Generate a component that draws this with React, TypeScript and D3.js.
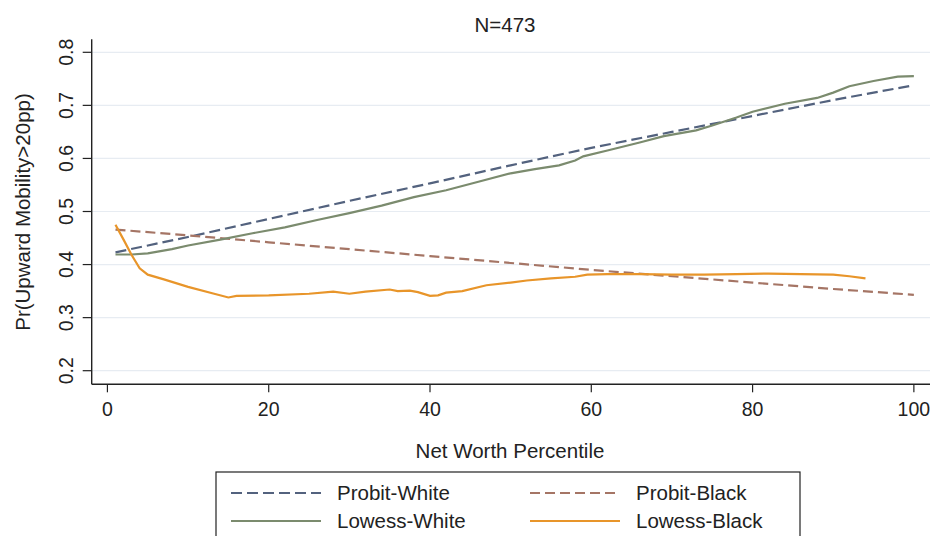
import React from "react";
import * as d3 from "d3";

// percentile values
const probitWhite: [number, number][] = [
  [1, 0.423], [10, 0.452], [20, 0.486], [30, 0.52], [40, 0.553], [50, 0.587],
  [60, 0.62], [70, 0.65], [80, 0.68], [90, 0.71], [100, 0.738],
];
const probitBlack: [number, number][] = [
  [1, 0.466], [10, 0.455], [20, 0.442], [30, 0.429], [40, 0.416], [50, 0.403],
  [60, 0.39], [70, 0.378], [80, 0.366], [90, 0.354], [100, 0.343],
];
const lowessWhite: [number, number][] = [
  [1, 0.419], [3, 0.419], [5, 0.421], [8, 0.429], [10, 0.436], [14, 0.447],
  [18, 0.459], [22, 0.47], [26, 0.484], [30, 0.497], [34, 0.511], [38, 0.527],
  [42, 0.54], [46, 0.556], [50, 0.572], [53, 0.58], [56, 0.587], [58, 0.596],
  [59, 0.604], [62, 0.615], [66, 0.63], [69, 0.642], [73, 0.653], [75, 0.662],
  [78, 0.677], [80, 0.688], [84, 0.703], [88, 0.714], [90, 0.724], [92, 0.736],
  [95, 0.746], [98, 0.754], [100, 0.755],
];
const lowessBlack: [number, number][] = [
  [1, 0.475], [2, 0.447], [3, 0.418], [4, 0.393], [5, 0.381], [7, 0.372],
  [10, 0.358], [13, 0.346], [15, 0.338], [16, 0.341], [20, 0.342], [25, 0.345],
  [28, 0.349], [30, 0.345], [32, 0.349], [35, 0.353], [36, 0.35], [37.5, 0.351],
  [38.5, 0.348], [40, 0.341], [41, 0.342], [42, 0.347], [44, 0.35], [47, 0.361],
  [50, 0.366], [52, 0.37], [55, 0.374], [58, 0.377], [59.5, 0.381], [62, 0.382],
  [66, 0.382], [70, 0.381], [74, 0.381], [78, 0.382], [82, 0.383], [86, 0.382],
  [90, 0.381], [92, 0.378], [94, 0.374],
];

const xTicks = [0, 20, 40, 60, 80, 100];
const yTicks = [0.2, 0.3, 0.4, 0.5, 0.6, 0.7, 0.8];

const series = [
  { name: "Probit-White", data: probitWhite, color: "#53627e", dash: "11,5" },
  { name: "Probit-Black", data: probitBlack, color: "#a57565", dash: "10,5" },
  { name: "Lowess-White", data: lowessWhite, color: "#7b8b6e", dash: null },
  { name: "Lowess-Black", data: lowessBlack, color: "#e8952a", dash: null },
];

const W = 934;
const H = 536;
const font = "'Liberation Sans', Arial, Helvetica, sans-serif";

export default function App() {
  const x = d3.scaleLinear().domain([-1.95, 102]).range([91.7, 930]);
  const y = d3.scaleLinear().domain([0.2, 0.8]).range([370.7, 52.3]);
  const left = 91.7;
  const bottom = 384.3;
  const top = 39.3;
  const right = 930;

  const line = d3
    .line<[number, number]>()
    .x((d) => x(d[0]))
    .y((d) => y(d[1]));

  return (
    <svg
      width={W}
      height={H}
      style={{ position: "absolute", left: 0, top: 0, background: "#fff" }}
      fontFamily={font}
    >
      <rect width={W} height={H} fill="#fff" />
      <text x={505} y={32} textAnchor="middle" fontSize={20.5} fill="#222">
        N=473
      </text>

      {yTicks.map((t) => (
        <g key={t}>
          <line x1={left} x2={right} y1={y(t)} y2={y(t)} stroke="#e7ecf2" strokeWidth={1.2} />
          <line x1={left - 9} x2={left} y1={y(t)} y2={y(t)} stroke="#222" strokeWidth={1.2} />
          <text
            transform={`translate(73,${y(t)}) rotate(-90)`}
            textAnchor="middle"
            fontSize={19.5}
            fill="#222"
          >
            {t.toFixed(1)}
          </text>
        </g>
      ))}

      {xTicks.map((t) => (
        <g key={t}>
          <line x1={x(t)} x2={x(t)} y1={bottom} y2={bottom + 8} stroke="#222" strokeWidth={1.2} />
          <text x={x(t)} y={416} textAnchor="middle" fontSize={19.5} fill="#222">
            {t}
          </text>
        </g>
      ))}

      <line x1={left} x2={left} y1={top} y2={bottom} stroke="#222" strokeWidth={1.4} />
      <line x1={left} x2={right} y1={bottom} y2={bottom} stroke="#222" strokeWidth={1.4} />

      {series.map((s) => (
        <path
          key={s.name}
          d={line(s.data) || ""}
          fill="none"
          stroke={s.color}
          strokeWidth={2.2}
          strokeDasharray={s.dash || undefined}
        />
      ))}

      <text
        transform={`translate(30,212) rotate(-90)`}
        textAnchor="middle"
        fontSize={20.5}
        fill="#222"
      >
        Pr(Upward Mobility&gt;20pp)
      </text>
      <text x={510} y={458} textAnchor="middle" fontSize={20.5} fill="#222">
        Net Worth Percentile
      </text>

      <rect x={216} y={472} width={584} height={80} fill="#fff" stroke="#222" strokeWidth={1.2} />
      {series.map((s, i) => {
        const col = i % 2;
        const row = Math.floor(i / 2);
        const lx = col === 0 ? 231 : 530;
        const ly = row === 0 ? 493 : 521;
        return (
          <g key={s.name}>
            <line
              x1={lx}
              x2={lx + 90}
              y1={ly}
              y2={ly}
              stroke={s.color}
              strokeWidth={2.2}
              strokeDasharray={s.dash || undefined}
            />
            <text x={lx + 106} y={ly + 7} fontSize={20.5} fill="#222">
              {s.name}
            </text>
          </g>
        );
      })}
    </svg>
  );
}
